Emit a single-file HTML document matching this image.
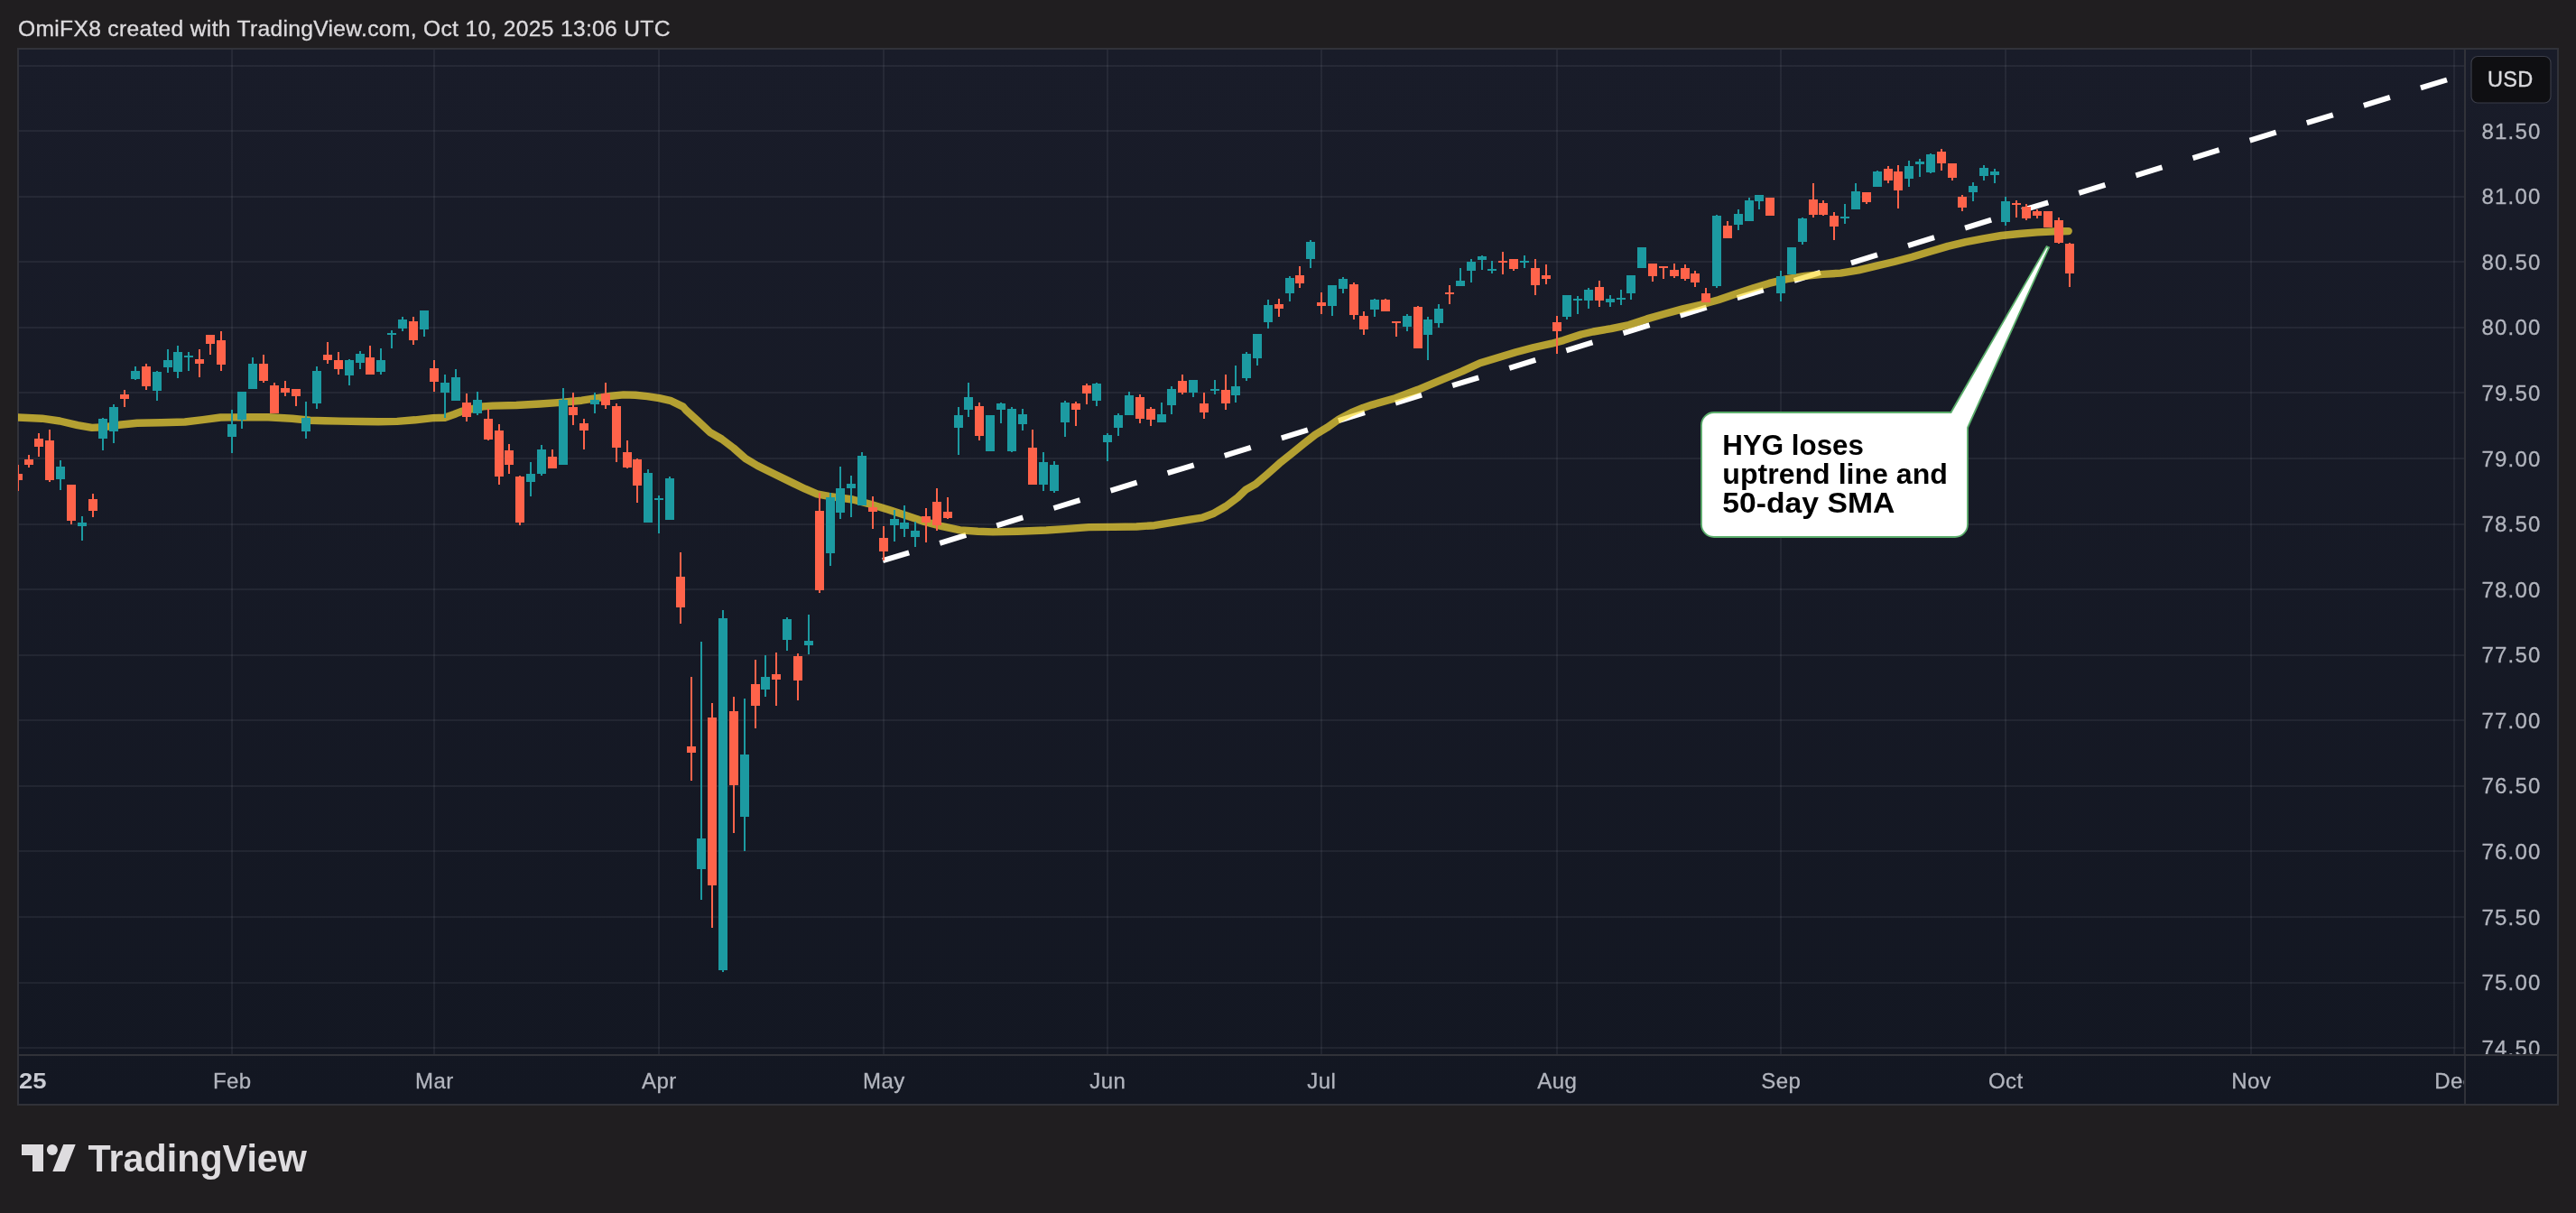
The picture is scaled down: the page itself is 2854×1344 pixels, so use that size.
<!DOCTYPE html>
<html lang="en"><head><meta charset="utf-8"><title>HYG chart</title>
<style>
html,body{margin:0;padding:0;background:#201e20;}
body{width:2854px;height:1344px;overflow:hidden;position:relative;font-family:"Liberation Sans",sans-serif;}
svg{position:absolute;left:0;top:0;display:block;will-change:transform;}
.hdr{will-change:transform;}
text{font-family:"Liberation Sans",sans-serif;}
.hdr{position:absolute;left:20px;top:13.7px;margin:0;font-size:24.6px;line-height:36px;color:#dcdadd;white-space:nowrap;letter-spacing:0.326px;font-weight:400;-webkit-text-stroke:0.35px #dcdadd;}
.pl{font-size:24px;fill:#b2b5be;letter-spacing:1.25px;stroke:#b2b5be;stroke-width:0.3;}
.tl{font-size:24px;fill:#b2b5be;text-anchor:middle;letter-spacing:0.4px;stroke:#b2b5be;stroke-width:0.3;}
.co{font-size:30.8px;font-weight:700;fill:#000;}
</style></head><body>
<p class="hdr">OmiFX8 created with TradingView.com, Oct 10, 2025 13:06 UTC</p>
<svg width="2854" height="1344" viewBox="0 0 2854 1344">
<defs>
<linearGradient id="bg" x1="0" y1="0" x2="0" y2="1"><stop offset="0" stop-color="#191c29"/><stop offset="1" stop-color="#131722"/></linearGradient>
<clipPath id="pane"><rect x="20" y="55" width="2710" height="1113"/></clipPath>
<clipPath id="taxis"><rect x="21" y="1169" width="2709" height="55"/></clipPath>
<clipPath id="paxis"><rect x="2731" y="55" width="103" height="1113"/></clipPath>
</defs>
<rect x="19" y="53" width="2816" height="1172" fill="url(#bg)"/>
<g fill="rgba(240,243,250,0.062)" clip-path="url(#pane)">
<rect x="256" y="54" width="2" height="1115"/>
<rect x="480" y="54" width="2" height="1115"/>
<rect x="729" y="54" width="2" height="1115"/>
<rect x="978" y="54" width="2" height="1115"/>
<rect x="1226" y="54" width="2" height="1115"/>
<rect x="1463" y="54" width="2" height="1115"/>
<rect x="1724" y="54" width="2" height="1115"/>
<rect x="1972" y="54" width="2" height="1115"/>
<rect x="2221" y="54" width="2" height="1115"/>
<rect x="2493" y="54" width="2" height="1115"/>
<rect x="2718" y="54" width="2" height="1115"/>
<rect x="20" y="72" width="2711" height="2"/>
<rect x="20" y="144" width="2711" height="2"/>
<rect x="20" y="217" width="2711" height="2"/>
<rect x="20" y="289" width="2711" height="2"/>
<rect x="20" y="362" width="2711" height="2"/>
<rect x="20" y="434" width="2711" height="2"/>
<rect x="20" y="507" width="2711" height="2"/>
<rect x="20" y="580" width="2711" height="2"/>
<rect x="20" y="652" width="2711" height="2"/>
<rect x="20" y="725" width="2711" height="2"/>
<rect x="20" y="797" width="2711" height="2"/>
<rect x="20" y="870" width="2711" height="2"/>
<rect x="20" y="942" width="2711" height="2"/>
<rect x="20" y="1015" width="2711" height="2"/>
<rect x="20" y="1088" width="2711" height="2"/>
<rect x="20" y="1160" width="2711" height="2"/>
</g>
<g fill="#313239">
<rect x="19" y="53" width="2816" height="2"/>
<rect x="19" y="1223" width="2816" height="2"/>
<rect x="19" y="53" width="2" height="1172"/>
<rect x="2833" y="53" width="2" height="1172"/>
<rect x="2730" y="54" width="2" height="1170"/>
<rect x="20" y="1168" width="2814" height="2"/>
</g>
<g clip-path="url(#pane)">
<line x1="978.1" y1="621.2" x2="2711" y2="88.5" stroke="#fff" stroke-width="6" stroke-dasharray="30.4 35.62"/>
<polyline points="20,462.5 46.4,463.7 66.2,466.5 86,471.2 101.8,473.9 116,473.2 132.2,470.8 152,468.8 178.4,468.2 204.8,467.5 224.6,465.1 244.4,462.5 257.6,462.4 277.4,462.2 297.2,462.2 323.6,463.8 343.4,465.7 360,466.3 377.4,466.6 400,467 419.3,467.2 440,466.9 459.8,465.3 479.6,463.1 492.8,462.8 503.4,459 511.3,455.8 535,450.4 545.6,449.6 572,449 598.4,447.5 618.2,446.1 644.6,443.7 657.8,441.7 677.6,438.7 690.8,437.4 704,437.8 717.2,439.1 730.4,441.2 743.6,444.2 756.8,450.6 760,454.4 773.2,466.4 786.4,478.8 799.6,486.5 812.8,496.5 826,508.2 839.2,516 859,525.8 878.8,535.4 892,541.7 905.2,547.4 918.4,549.9 944.8,553.5 964.6,558.8 984.4,564.7 1004.2,571.3 1024,577.9 1043.8,583.2 1063.6,587.4 1083.4,588.8 1100,589.4 1127.7,588.7 1159.2,587.5 1180,586.1 1206.4,584.1 1232.8,583.9 1259.2,583.5 1279,582.2 1298.8,578.9 1318.6,575.6 1331.8,573.6 1345,568.7 1358.2,561 1371.4,551.1 1380.6,542.3 1391.2,536.4 1404.4,525.1 1417.6,513.3 1430.8,502.7 1444,492.1 1457.2,481.6 1470.4,473.7 1483.6,464.4 1496.8,457.4 1510,451.9 1520,448.6 1545.8,441.2 1570.9,431.8 1598.2,420.3 1620,411.4 1639.8,402.2 1659.6,396.3 1679.4,390.3 1699.2,385 1719,380.7 1732.2,377.1 1752,370.5 1765.2,367.5 1785,364.2 1804.8,360 1824.6,353.4 1844.4,347.7 1864.2,342.4 1884,337.8 1903.8,332.2 1923.6,325.6 1943.4,319 1960,313.9 1979.8,309.2 1999.6,305.9 2019.4,303.9 2039.2,302.6 2059,299.3 2078.8,294.6 2098.6,290 2118.4,284.7 2138.2,278.8 2158,272.9 2177.8,268.2 2197.6,264.3 2217.4,261 2237.2,259 2257,257.4 2276.8,256.4 2291.7,256.1" fill="none" stroke="#fadc37" stroke-opacity="0.69" stroke-width="8.4" stroke-linejoin="round" stroke-linecap="round"/>
<path fill="#1c9aa1" d="M66 510h2v33h-2zM62 517h10v14h-10zM90 572h2v27h-2zM86 579h10v4h-10zM113 463h2v36h-2zM109 464h10v22h-10zM125 448h2v43h-2zM121 451h10v27h-10zM149 406h2v15h-2zM145 411h10v9h-10zM173 411h2v33h-2zM169 412h10v21h-10zM185 387h2v26h-2zM181 399h10v8h-10zM196 383h2v36h-2zM192 390h10v22h-10zM208 390h2v21h-2zM204 394h10v2h-10zM256 454h2v48h-2zM252 470h10v14h-10zM267 434h2v41h-2zM263 434h10v31h-10zM279 396h2v35h-2zM275 403h10v28h-10zM338 445h2v41h-2zM334 463h10v15h-10zM350 406h2v47h-2zM346 411h10v36h-10zM386 398h2v29h-2zM382 399h10v17h-10zM398 389h2v20h-2zM394 392h10v10h-10zM421 386h2v29h-2zM417 399h10v13h-10zM433 366h2v20h-2zM429 369h10v2h-10zM445 351h2v16h-2zM441 354h10v10h-10zM469 344h2v29h-2zM465 344h10v21h-10zM492 415h2v48h-2zM488 424h10v11h-10zM504 409h2v35h-2zM500 418h10v26h-10zM528 434h2v26h-2zM524 443h10v15h-10zM587 512h2v38h-2zM583 525h10v9h-10zM599 493h2v34h-2zM595 498h10v27h-10zM623 430h2v85h-2zM619 443h10v72h-10zM658 435h2v23h-2zM654 443h10v5h-10zM717 520h2v59h-2zM713 524h10v55h-10zM729 549h2v42h-2zM725 552h10v2h-10zM741 528h2v48h-2zM737 530h10v46h-10zM776 711h2v286h-2zM772 929h10v34h-10zM800 676h2v401h-2zM796 685h10v390h-10zM824 774h2v169h-2zM820 836h10v69h-10zM847 726h2v46h-2zM843 750h10v14h-10zM871 684h2v37h-2zM867 686h10v23h-10zM895 681h2v44h-2zM891 710h10v5h-10zM919 546h2v81h-2zM915 551h10v62h-10zM930 517h2v58h-2zM926 541h10v27h-10zM942 527h2v46h-2zM938 536h10v5h-10zM954 501h2v59h-2zM950 505h10v55h-10zM990 565h2v35h-2zM986 575h10v7h-10zM1001 560h2v35h-2zM997 579h10v7h-10zM1013 578h2v28h-2zM1009 588h10v7h-10zM1061 451h2v53h-2zM1057 460h10v14h-10zM1072 424h2v38h-2zM1068 440h10v14h-10zM1096 460h2v40h-2zM1092 460h10v40h-10zM1108 446h2v23h-2zM1104 447h10v7h-10zM1120 451h2v50h-2zM1116 453h10v47h-10zM1132 453h2v24h-2zM1128 459h10v11h-10zM1155 501h2v43h-2zM1151 512h10v25h-10zM1167 511h2v35h-2zM1163 515h10v29h-10zM1179 444h2v40h-2zM1175 446h10v22h-10zM1214 424h2v26h-2zM1210 425h10v19h-10zM1226 480h2v31h-2zM1222 482h10v8h-10zM1238 458h2v25h-2zM1234 460h10v14h-10zM1250 434h2v26h-2zM1246 438h10v22h-10zM1286 446h2v22h-2zM1282 459h10v9h-10zM1297 428h2v31h-2zM1293 431h10v18h-10zM1321 421h2v19h-2zM1317 421h10v14h-10zM1345 421h2v16h-2zM1341 431h10v2h-10zM1368 405h2v41h-2zM1364 428h10v10h-10zM1380 390h2v32h-2zM1376 392h10v27h-10zM1392 370h2v35h-2zM1388 370h10v27h-10zM1404 332h2v32h-2zM1400 338h10v19h-10zM1428 306h2v28h-2zM1424 308h10v17h-10zM1451 266h2v31h-2zM1447 268h10v19h-10zM1475 316h2v34h-2zM1471 316h10v23h-10zM1487 307h2v18h-2zM1483 309h10v11h-10zM1522 331h2v20h-2zM1518 332h10v11h-10zM1558 348h2v19h-2zM1554 350h10v12h-10zM1581 351h2v48h-2zM1577 354h10v17h-10zM1593 337h2v26h-2zM1589 342h10v16h-10zM1617 297h2v20h-2zM1613 311h10v6h-10zM1629 287h2v26h-2zM1625 290h10v10h-10zM1641 283h2v16h-2zM1637 284h10v4h-10zM1652 289h2v14h-2zM1648 298h10v2h-10zM1688 283h2v14h-2zM1684 289h10v2h-10zM1735 327h2v27h-2zM1731 327h10v24h-10zM1747 328h2v20h-2zM1743 331h10v2h-10zM1759 319h2v23h-2zM1755 321h10v12h-10zM1783 327h2v13h-2zM1779 331h10v4h-10zM1795 321h2v17h-2zM1791 330h10v2h-10zM1806 305h2v27h-2zM1802 305h10v20h-10zM1818 274h2v23h-2zM1814 274h10v23h-10zM1901 238h2v81h-2zM1897 239h10v78h-10zM1925 232h2v23h-2zM1921 237h10v12h-10zM1937 219h2v26h-2zM1933 222h10v23h-10zM1948 216h2v16h-2zM1944 216h10v7h-10zM1972 300h2v34h-2zM1968 306h10v19h-10zM1984 274h2v30h-2zM1980 274h10v30h-10zM1996 241h2v30h-2zM1992 242h10v26h-10zM2043 226h2v22h-2zM2039 240h10v2h-10zM2055 203h2v29h-2zM2051 212h10v20h-10zM2079 189h2v18h-2zM2075 190h10v17h-10zM2114 178h2v29h-2zM2110 184h10v14h-10zM2126 176h2v20h-2zM2122 179h10v3h-10zM2138 170h2v22h-2zM2134 171h10v20h-10zM2185 202h2v21h-2zM2181 206h10v7h-10zM2197 183h2v17h-2zM2193 186h10v9h-10zM2209 187h2v16h-2zM2205 190h10v4h-10zM2221 218h2v32h-2zM2217 223h10v23h-10z"/>
<path fill="#ff634a" d="M19 515h2v29h-2zM15 525h10v7h-10zM31 504h2v14h-2zM27 509h10v6h-10zM42 480h2v26h-2zM38 486h10v9h-10zM54 476h2v58h-2zM50 488h10v44h-10zM78 537h2v44h-2zM74 537h10v40h-10zM102 547h2v26h-2zM98 553h10v13h-10zM137 432h2v19h-2zM133 437h10v5h-10zM161 403h2v29h-2zM157 406h10v22h-10zM220 387h2v31h-2zM216 398h10v5h-10zM232 371h2v22h-2zM228 371h10v10h-10zM244 367h2v44h-2zM240 377h10v27h-10zM291 393h2v31h-2zM287 403h10v19h-10zM303 424h2v34h-2zM299 427h10v31h-10zM315 422h2v17h-2zM311 430h10v5h-10zM327 431h2v19h-2zM323 431h10v8h-10zM362 379h2v24h-2zM358 393h10v6h-10zM374 390h2v25h-2zM370 399h10v10h-10zM409 383h2v32h-2zM405 396h10v19h-10zM457 351h2v31h-2zM453 356h10v21h-10zM480 399h2v35h-2zM476 408h10v15h-10zM516 436h2v31h-2zM512 446h10v16h-10zM540 453h2v35h-2zM536 464h10v23h-10zM552 470h2v67h-2zM548 477h10v51h-10zM563 492h2v33h-2zM559 499h10v16h-10zM575 527h2v55h-2zM571 528h10v51h-10zM611 498h2v21h-2zM607 506h10v13h-10zM634 435h2v36h-2zM630 451h10v9h-10zM646 464h2v34h-2zM642 469h10v8h-10zM670 424h2v29h-2zM666 436h10v13h-10zM682 447h2v65h-2zM678 450h10v46h-10zM694 488h2v31h-2zM690 501h10v17h-10zM705 508h2v49h-2zM701 509h10v29h-10zM753 612h2v79h-2zM749 639h10v34h-10zM765 750h2v115h-2zM761 827h10v7h-10zM788 779h2v249h-2zM784 795h10v186h-10zM812 772h2v151h-2zM808 788h10v82h-10zM836 731h2v76h-2zM832 758h10v24h-10zM859 723h2v59h-2zM855 747h10v6h-10zM883 724h2v52h-2zM879 727h10v27h-10zM907 546h2v111h-2zM903 566h10v88h-10zM966 550h2v36h-2zM962 562h10v5h-10zM978 583h2v38h-2zM974 596h10v15h-10zM1025 563h2v38h-2zM1021 572h10v7h-10zM1037 541h2v47h-2zM1033 556h10v26h-10zM1049 551h2v24h-2zM1045 567h10v7h-10zM1084 446h2v42h-2zM1080 450h10v33h-10zM1143 476h2v61h-2zM1139 496h10v41h-10zM1191 445h2v27h-2zM1187 447h10v7h-10zM1203 425h2v23h-2zM1199 427h10v9h-10zM1262 437h2v32h-2zM1258 440h10v24h-10zM1274 451h2v21h-2zM1270 453h10v12h-10zM1309 415h2v22h-2zM1305 422h10v13h-10zM1333 435h2v29h-2zM1329 447h10v10h-10zM1357 415h2v39h-2zM1353 432h10v15h-10zM1416 331h2v20h-2zM1412 337h10v5h-10zM1439 295h2v24h-2zM1435 305h10v9h-10zM1463 324h2v24h-2zM1459 335h10v4h-10zM1499 313h2v41h-2zM1495 315h10v34h-10zM1510 345h2v26h-2zM1506 350h10v15h-10zM1534 331h2v14h-2zM1530 332h10v13h-10zM1546 356h2v17h-2zM1542 356h10v2h-10zM1570 339h2v47h-2zM1566 340h10v46h-10zM1605 316h2v21h-2zM1601 324h10v2h-10zM1664 279h2v25h-2zM1660 289h10v2h-10zM1676 287h2v13h-2zM1672 287h10v11h-10zM1700 287h2v40h-2zM1696 297h10v19h-10zM1712 293h2v22h-2zM1708 305h10v4h-10zM1724 350h2v42h-2zM1720 357h10v10h-10zM1771 311h2v29h-2zM1767 318h10v15h-10zM1830 292h2v20h-2zM1826 292h10v14h-10zM1842 295h2v14h-2zM1838 295h10v2h-10zM1854 292h2v16h-2zM1850 299h10v7h-10zM1866 293h2v18h-2zM1862 297h10v12h-10zM1877 300h2v18h-2zM1873 303h10v10h-10zM1889 319h2v16h-2zM1885 325h10v10h-10zM1913 245h2v19h-2zM1909 250h10v14h-10zM1960 219h2v20h-2zM1956 219h10v20h-10zM2008 203h2v38h-2zM2004 221h10v17h-10zM2019 222h2v17h-2zM2015 225h10v13h-10zM2031 235h2v31h-2zM2027 239h10v12h-10zM2067 213h2v13h-2zM2063 213h10v11h-10zM2091 184h2v19h-2zM2087 187h10v13h-10zM2102 183h2v48h-2zM2098 190h10v21h-10zM2150 165h2v24h-2zM2146 168h10v13h-10zM2162 181h2v19h-2zM2158 181h10v16h-10zM2173 216h2v18h-2zM2169 218h10v12h-10zM2233 222h2v19h-2zM2229 225h10v2h-10zM2244 226h2v18h-2zM2240 229h10v13h-10zM2256 232h2v10h-2zM2252 234h10v5h-10zM2268 234h2v18h-2zM2264 234h10v18h-10zM2280 241h2v29h-2zM2276 244h10v25h-10zM2292 269h2v49h-2zM2288 270h10v33h-10z"/>
</g>
<path d="M1899 457L2161.5 457L2267.5 273.1L2270.1 274.3L2180 473.8L2180 581A14 14 0 0 1 2166 595L1899 595A14 14 0 0 1 1885 581L1885 471A14 14 0 0 1 1899 457Z" fill="#fff" stroke="#5bae6c" stroke-width="1.8" stroke-linejoin="miter"/>
<text class="co" x="1908.3" y="503.8" textLength="156.6" lengthAdjust="spacingAndGlyphs">HYG loses</text>
<text class="co" x="1908.3" y="535.8" textLength="249.6" lengthAdjust="spacingAndGlyphs">uptrend line and</text>
<text class="co" x="1908.3" y="567.8" textLength="191" lengthAdjust="spacingAndGlyphs">50-day SMA</text>
<g clip-path="url(#paxis)">
<text class="pl" x="2749.4" y="153.7">81.50</text>
<text class="pl" x="2749.4" y="226.3">81.00</text>
<text class="pl" x="2749.4" y="298.8">80.50</text>
<text class="pl" x="2749.4" y="371.4">80.00</text>
<text class="pl" x="2749.4" y="444">79.50</text>
<text class="pl" x="2749.4" y="516.6">79.00</text>
<text class="pl" x="2749.4" y="589.1">78.50</text>
<text class="pl" x="2749.4" y="661.7">78.00</text>
<text class="pl" x="2749.4" y="734.3">77.50</text>
<text class="pl" x="2749.4" y="806.8">77.00</text>
<text class="pl" x="2749.4" y="879.4">76.50</text>
<text class="pl" x="2749.4" y="952">76.00</text>
<text class="pl" x="2749.4" y="1024.6">75.50</text>
<text class="pl" x="2749.4" y="1097.1">75.00</text>
<text class="pl" x="2749.4" y="1169.7">74.50</text>
</g>
<rect x="2738" y="62.5" width="88" height="51.5" rx="7" fill="#0f0f12" stroke="#3a3c48" stroke-width="1.2"/>
<text x="2781.3" y="95.6" font-size="23.5" fill="#dbdbdf" stroke="#dbdbdf" stroke-width="0.4" text-anchor="middle" letter-spacing="0.3">USD</text>
<g clip-path="url(#taxis)">
<text class="tl" x="257.3" y="1205.8">Feb</text>
<text class="tl" x="481.3" y="1205.8">Mar</text>
<text class="tl" x="730.3" y="1205.8">Apr</text>
<text class="tl" x="979.3" y="1205.8">May</text>
<text class="tl" x="1227.3" y="1205.8">Jun</text>
<text class="tl" x="1464.3" y="1205.8">Jul</text>
<text class="tl" x="1725.3" y="1205.8">Aug</text>
<text class="tl" x="1973.3" y="1205.8">Sep</text>
<text class="tl" x="2222.3" y="1205.8">Oct</text>
<text class="tl" x="2494.3" y="1205.8">Nov</text>
<text class="tl" x="2719.3" y="1205.8">Dec</text>
<text x="20.9" y="1205.8" font-size="24.2" font-weight="700" fill="#c9cbd3" textLength="30.6" lengthAdjust="spacingAndGlyphs">25</text>
</g>
<g fill="#dedcdf">
<path d="M24 1268h24v30.1H36v-18.1H24z"/>
<circle cx="57.9" cy="1274.1" r="6"/>
<path d="M70.2 1268h13.5l-11.8 30.1h-13.6z"/>
<text x="97.6" y="1298.1" font-size="42.8" font-weight="700" textLength="242.3" lengthAdjust="spacingAndGlyphs">TradingView</text>
</g>
</svg>
</body></html>
